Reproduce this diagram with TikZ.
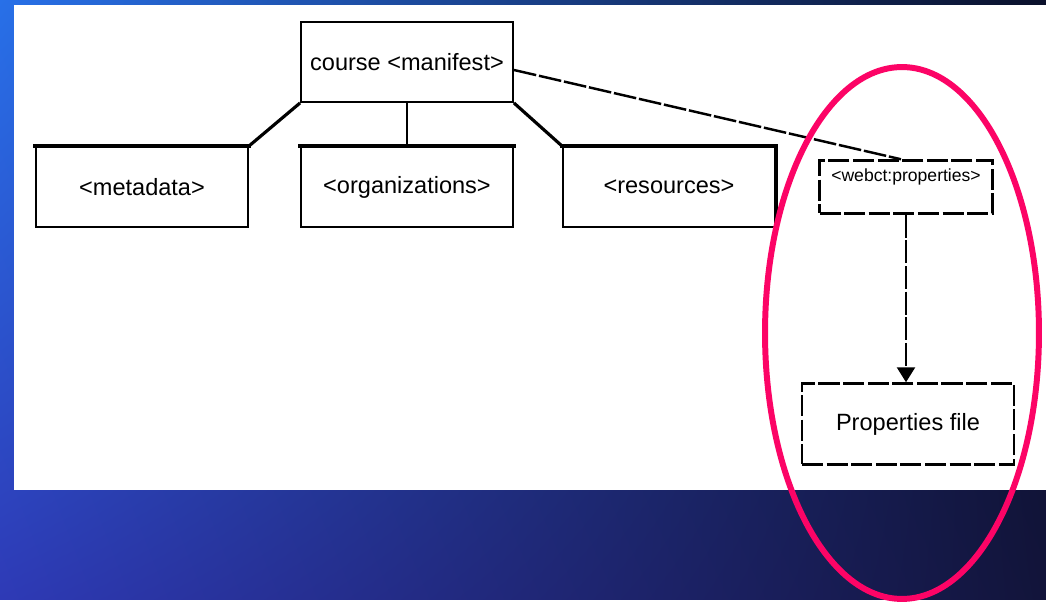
\documentclass[tikz,border=0pt]{standalone}
\usepackage{fontspec}
\setmainfont{Liberation Sans}
\usetikzlibrary{arrows.meta, shadings}

\definecolor{bgtl}{RGB}{40,112,232}
\definecolor{bgtr}{RGB}{10,16,42}
\definecolor{bgbl}{RGB}{46,58,182}
\definecolor{bgbr}{RGB}{18,20,58}
\definecolor{ringpink}{RGB}{252,4,102}

\begin{document}
\begin{tikzpicture}[x=0.02cm, y=-0.02cm,
  box/.style={draw=black, line width=1.1pt, fill=white, minimum width=4.24cm, minimum height=1.6cm, inner sep=0pt, font=\fontsize{13.4}{16}\selectfont},
  dashbox/.style={box, dash pattern=on 12pt off 2pt, line width=1.4pt},
  topedge/.style={line width=2.4pt, line cap=rect},
  link/.style={line width=1.8pt},
  dashlink/.style={line width=1.4pt, dash pattern=on 13pt off 1.6pt}]
% background
\shade[upper left=bgtl, upper right=bgtr, lower left=bgbl, lower right=bgbr] (0,0) rectangle (1046,600);
\fill[white] (14,5) rectangle (1046,490);

% boxes
\node[box] (manifest) at (407,62) {course <manifest>};
\node[box] (meta) at (142,187) {<metadata>};
\node[box] (org) at (407,187) {<organizations>};
\node[box] (res) at (669,187) {<resources>};
\node[dashbox, minimum width=3.46cm, minimum height=1.06cm, font=\fontsize{10}{12}\selectfont, text height=7pt, text depth=13pt] (webct) at (906,187) {<webct:properties>};
\node[dashbox, minimum height=1.62cm] (props) at (908,424) {Properties file};

\draw[topedge] (meta.north west) -- (meta.north east);
\draw[topedge] (org.north west) -- (org.north east);
\draw[topedge] (res.north west) -- (res.north east) -- (res.south east);

% links
\draw[link] (manifest.south west) -- (meta.north east);
\draw[line width=1.2pt] (manifest.south) -- (org.north);
\draw[link] (manifest.south east) -- (res.north west);
\draw[dashlink] ([yshift=-0.16cm]manifest.east) -- ([xshift=-0.1cm]webct.north);
\draw[dashlink, -{Triangle[width=0.36cm, length=0.3cm]}] (webct.south) -- (webct.south |- props.north);

% highlight
\draw[ringpink, line width=3.4pt] (902,333) ellipse [x radius=2.74cm, y radius=5.32cm];
\end{tikzpicture}
\end{document}
